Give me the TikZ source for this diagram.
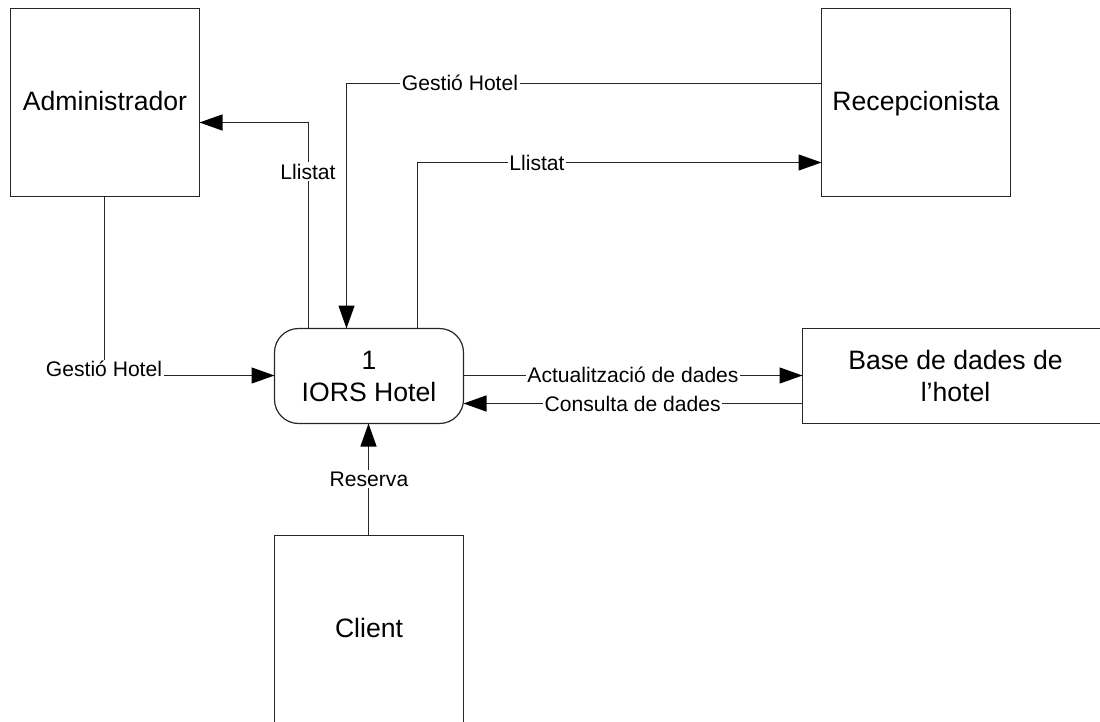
\documentclass[tikz,border=0pt]{standalone}
\usepackage{fontspec}
\setmainfont{Liberation Sans}
\usetikzlibrary{arrows.meta}
\tikzset{
  x=1pt,y=-1pt,
  box/.style={draw=black!85,line width=1.2pt,anchor=north west,outer sep=0pt,inner sep=0pt,align=center,font=\fontsize{26.6}{33}\selectfont},
  plain/.style={draw=black!85,line width=1.2pt},
  flow/.style={plain,-{Triangle[length=23pt,width=16pt,black]}},
  lab/.style={fill=white,inner sep=1.5pt,font=\fontsize{21.1}{24}\selectfont}
}
\begin{document}
\begin{tikzpicture}
\useasboundingbox (0,0) rectangle (1100,722);
\clip (0,0) rectangle (1100,722);
\node[box,minimum width=189pt,minimum height=188pt,text height=19pt,text depth=3.5pt] (admin) at (10.5,8.5) {Administrador};
\node[box,minimum width=189pt,minimum height=188pt,text height=19pt,text depth=3.5pt] (recep) at (821.5,8.5) {Recepcionista};
\node[box,minimum width=306pt,minimum height=95pt,font=\fontsize{26.6}{32.5}\selectfont] (base) at (802.5,328.5) {Base de dades de\\l’hotel};
\node[box,rounded corners=24pt,minimum width=189pt,minimum height=95pt,font=\fontsize{26.6}{32}\selectfont] (proc) at (274.5,328.5) {1\\IORS Hotel};
\node[box,minimum width=189pt,minimum height=200pt,text height=19pt,text depth=14.4pt] (client) at (274.5,535.5) {Client};
\coordinate (admS) at ([xshift=-0.5pt]admin.south);
\coordinate (admE) at ([yshift=-114pt]admin.north east);
\coordinate (recG) at ([yshift=-75pt]recep.north west);
\coordinate (recL) at ([yshift=-154pt]recep.north west);
\coordinate (prW) at ([yshift=-47pt]proc.north west);
\coordinate (prA) at ([xshift=34pt]proc.north west);
\coordinate (prG) at ([xshift=72pt]proc.north west);
\coordinate (prL) at ([xshift=143pt]proc.north west);
\coordinate (prU) at ([yshift=-47pt]proc.north east);
\coordinate (prC) at ([yshift=-75pt]proc.north east);
\coordinate (prS) at ([xshift=94pt]proc.south west);
\coordinate (baU) at ([yshift=-47pt]base.north west);
\coordinate (baC) at ([yshift=-75pt]base.north west);
\coordinate (clN) at ([xshift=94pt]client.north west);
\draw[flow] (admS) |- (prW);
\draw[flow] (prA) |- (admE);
\draw[flow] (recG) -| (prG);
\draw[flow] (prL) |- (recL);
\draw[flow] (prU) -- (baU);
\draw[flow] (baC) -- (prC);
\draw[flow] (clN) -- (prS);
\node[lab] (l1) at (104,369) {Gestió Hotel};
\node[lab] (l2) at (308,171.7) {Llistat};
\node[lab] (l3) at (460,83) {Gestió Hotel};
\node[lab] (l4) at (537,163) {Llistat};
\node[lab] (l5) at (633,375) {Actualització de dades};
\node[lab] (l6) at (632.7,403.5) {Consulta de dades};
\node[lab] (l7) at (369,479) {Reserva};
\end{tikzpicture}
\end{document}
